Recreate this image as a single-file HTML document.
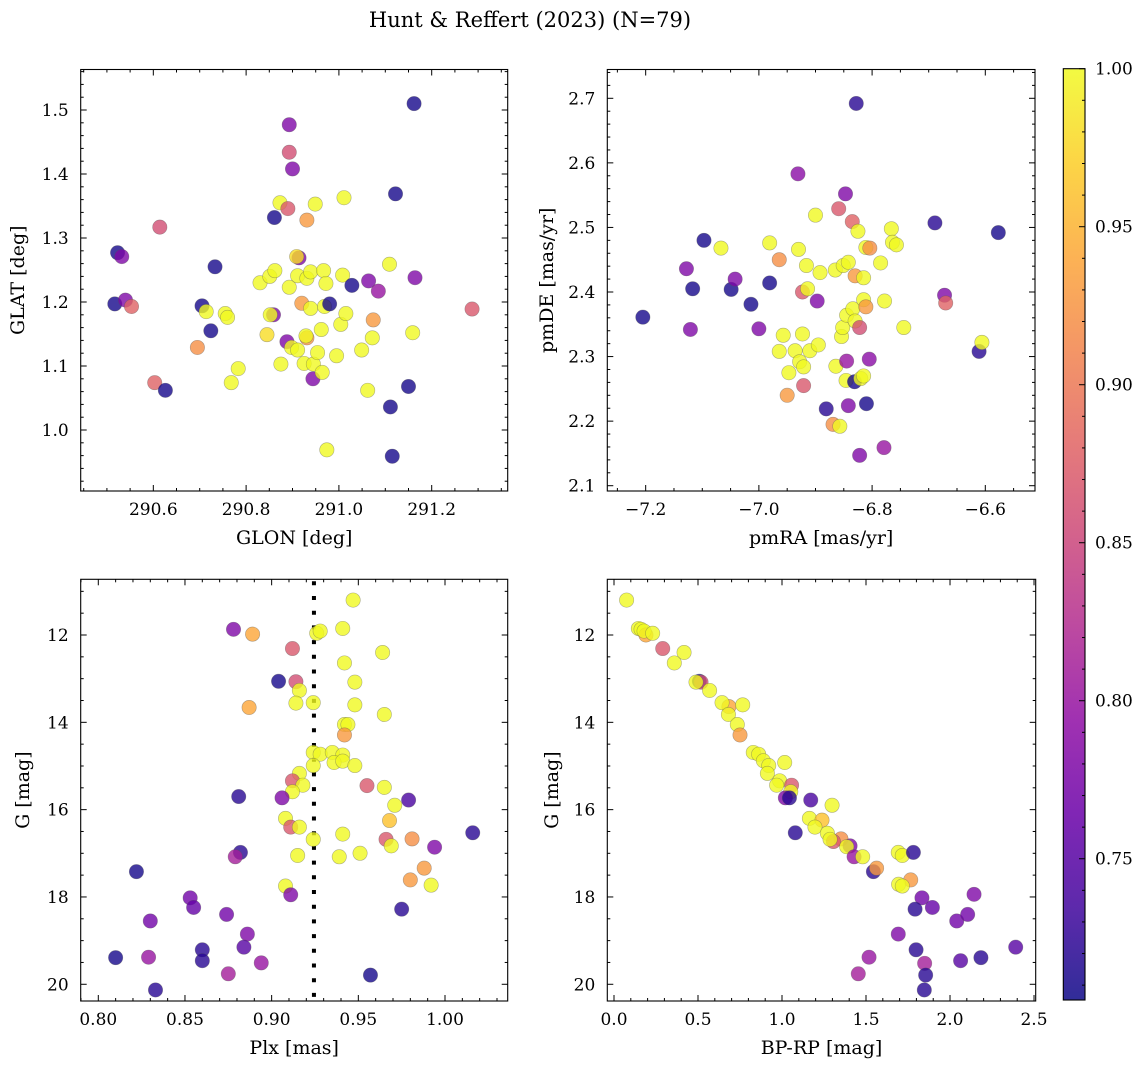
<!DOCTYPE html>
<html><head><meta charset="utf-8"><style>
html,body{margin:0;padding:0;background:#fff;}
svg{display:block;font-family:"DejaVu Serif","Liberation Serif",serif;}
</style></head><body>
<svg id="fig" width="1148" height="1068" viewBox="0 0 1148 1068" xmlns="http://www.w3.org/2000/svg">
<defs>
<linearGradient id="plasma" x1="0" y1="1" x2="0" y2="0">
<stop offset="0" stop-color="#0d0887"/><stop offset="0.1" stop-color="#41049d"/><stop offset="0.2" stop-color="#6a00a8"/><stop offset="0.3" stop-color="#8f0da4"/><stop offset="0.4" stop-color="#b12a90"/><stop offset="0.5" stop-color="#cc4778"/><stop offset="0.6" stop-color="#e16462"/><stop offset="0.7" stop-color="#f2844b"/><stop offset="0.8" stop-color="#fca636"/><stop offset="0.9" stop-color="#fcce25"/><stop offset="1" stop-color="#f0f921"/>
</linearGradient>
</defs>
<text x="530" y="27" font-size="21" text-anchor="middle">Hunt &amp; Reffert (2023) (N=79)</text>
</svg>
<script>
// ---- Panel 1: GLON / GLAT ----
const p1Glon=[290.523,290.532,290.517,290.540,290.553,290.614,290.603,290.626,290.695,290.705,290.714,290.724,290.733,290.755,290.760,290.768,290.783,290.830,290.845,290.859,290.852,290.851,290.862,290.861,290.873,290.890,290.875,290.888,290.893,290.893,290.893,290.900,290.898,290.911,290.914,290.909,290.911,290.920,290.925,290.931,290.931,290.929,290.931,290.939,290.939,290.944,290.945,290.949,290.954,290.962,290.964,290.967,290.972,290.969,290.980,290.974,290.995,291.004,291.008,291.011,291.015,291.028,291.049,291.064,291.062,291.072,291.074,291.085,291.109,291.111,291.115,291.122,291.150,291.159,291.164,291.162,291.287];
const p1Glat=[1.277,1.271,1.197,1.203,1.193,1.317,1.074,1.062,1.129,1.194,1.185,1.155,1.255,1.182,1.176,1.074,1.096,1.230,1.149,1.180,1.180,1.240,1.249,1.332,1.355,1.346,1.103,1.138,1.223,1.477,1.434,1.408,1.129,1.125,1.269,1.271,1.241,1.198,1.104,1.328,1.144,1.147,1.237,1.247,1.190,1.080,1.103,1.353,1.121,1.157,1.090,1.249,1.229,1.193,1.197,0.969,1.116,1.165,1.242,1.363,1.182,1.226,1.125,1.233,1.062,1.144,1.172,1.217,1.259,1.036,0.959,1.369,1.068,1.152,1.238,1.510,1.189];
const p1Prob=[0.71,0.78,0.71,0.78,0.88,0.86,0.88,0.71,0.92,0.71,1.0,0.71,0.71,1.0,1.0,1.0,1.0,1.0,0.98,0.78,1.0,1.0,1.0,0.71,1.0,0.87,1.0,0.78,1.0,0.78,0.86,0.78,1.0,1.0,0.78,0.98,1.0,0.93,1.0,0.93,0.93,1.0,1.0,1.0,1.0,0.78,1.0,1.0,1.0,1.0,1.0,1.0,1.0,1.0,0.71,1.0,1.0,1.0,1.0,1.0,1.0,0.71,1.0,0.78,1.0,1.0,0.93,0.80,1.0,0.71,0.71,0.71,0.71,1.0,0.78,0.71,0.87];
// ---- Panel 2: pmRA / pmDE ----
const p2Pmra=[-7.205,-7.128,-7.117,-7.121,-7.097,-7.067,-7.049,-7.042,-7.014,-7.000,-6.981,-6.981,-6.964,-6.957,-6.964,-6.947,-6.950,-6.936,-6.931,-6.930,-6.923,-6.928,-6.921,-6.916,-6.923,-6.914,-6.921,-6.910,-6.900,-6.897,-6.895,-6.892,-6.881,-6.869,-6.857,-6.865,-6.859,-6.864,-6.854,-6.851,-6.852,-6.845,-6.847,-6.845,-6.842,-6.846,-6.842,-6.835,-6.834,-6.831,-6.830,-6.830,-6.828,-6.825,-6.822,-6.822,-6.820,-6.815,-6.815,-6.815,-6.811,-6.811,-6.810,-6.804,-6.805,-6.785,-6.778,-6.779,-6.766,-6.764,-6.757,-6.744,-6.689,-6.672,-6.670,-6.611,-6.606,-6.577];
const p2Pmde=[2.361,2.436,2.405,2.342,2.480,2.468,2.404,2.420,2.381,2.343,2.414,2.476,2.450,2.333,2.308,2.275,2.240,2.309,2.583,2.466,2.335,2.292,2.284,2.441,2.400,2.405,2.255,2.309,2.519,2.386,2.318,2.430,2.219,2.195,2.192,2.434,2.529,2.285,2.331,2.441,2.345,2.293,2.552,2.364,2.446,2.263,2.224,2.509,2.374,2.261,2.425,2.355,2.692,2.494,2.345,2.147,2.266,2.270,2.422,2.388,2.469,2.377,2.227,2.468,2.296,2.445,2.386,2.159,2.498,2.477,2.473,2.345,2.507,2.395,2.383,2.308,2.322,2.492];
const p2Prob=[0.71,0.78,0.71,0.78,0.71,1.0,0.71,0.78,0.71,0.78,0.71,1.0,0.92,1.0,1.0,1.0,0.93,1.0,0.79,1.0,1.0,1.0,1.0,1.0,0.87,1.0,0.87,1.0,1.0,0.78,1.0,1.0,0.72,0.92,1.0,1.0,0.87,1.0,1.0,1.0,1.0,0.80,0.78,1.0,1.0,1.0,0.78,0.88,1.0,0.71,0.93,1.0,0.72,1.0,0.86,0.78,1.0,1.0,1.0,1.0,1.0,0.93,0.71,0.92,0.79,1.0,1.0,0.80,1.0,1.0,1.0,1.0,0.72,0.78,0.88,0.72,1.0,0.71];
// ---- Panel 3: Plx / G ----
const p3Plx=[0.947,0.878,0.889,0.926,0.928,0.941,0.912,0.964,0.942,0.904,0.914,0.916,0.948,0.887,0.914,0.924,0.948,0.965,0.942,0.944,0.942,0.924,0.928,0.935,0.941,0.936,0.941,0.948,0.924,0.916,0.912,0.918,0.912,0.955,0.965,0.906,0.881,0.979,0.971,0.908,0.911,0.916,0.968,1.016,0.941,0.924,0.966,0.981,0.969,0.994,0.882,0.879,0.915,0.939,0.951,0.822,0.988,0.980,0.992,0.908,0.911,0.853,0.855,0.975,0.874,0.830,0.886,0.884,0.860,0.810,0.829,0.860,0.894,0.875,0.957,0.833];
const p3G=[11.20,11.87,11.98,11.96,11.91,11.85,12.31,12.40,12.64,13.06,13.07,13.27,13.08,13.66,13.56,13.55,13.60,13.82,14.05,14.05,14.29,14.69,14.73,14.69,14.75,14.92,14.89,14.99,14.99,15.17,15.34,15.44,15.59,15.45,15.49,15.73,15.70,15.78,15.90,16.20,16.40,16.40,16.25,16.53,16.56,16.68,16.68,16.67,16.83,16.86,16.98,17.08,17.05,17.08,17.00,17.42,17.34,17.61,17.73,17.75,17.95,18.02,18.24,18.28,18.40,18.55,18.85,19.15,19.21,19.39,19.38,19.46,19.51,19.76,19.79,20.13];
const p3Prob=[1.0,0.78,0.94,1.0,1.0,1.0,0.87,1.0,1.0,0.71,0.86,1.0,1.0,0.94,1.0,1.0,1.0,1.0,1.0,1.0,0.93,1.0,1.0,1.0,1.0,1.0,1.0,1.0,1.0,1.0,0.87,1.0,1.0,0.87,1.0,0.78,0.72,0.74,1.0,1.0,0.87,1.0,0.96,0.72,1.0,1.0,0.87,0.92,1.0,0.78,0.72,0.81,1.0,1.0,1.0,0.71,0.93,0.93,1.0,1.0,0.78,0.77,0.76,0.72,0.77,0.77,0.78,0.75,0.72,0.71,0.80,0.72,0.80,0.81,0.71,0.72];
// ---- Panel 4: BP-RP / G ----
const p4Bprp=[0.075,0.145,0.161,0.190,0.179,0.230,0.290,0.417,0.359,0.508,0.518,0.488,0.569,0.684,0.643,0.766,0.681,0.734,0.750,0.829,0.861,0.889,0.921,0.913,1.016,0.986,0.968,1.057,1.052,1.020,1.044,1.171,1.298,1.163,1.238,1.196,1.079,1.270,1.351,1.306,1.286,1.405,1.385,1.429,1.480,1.692,1.716,1.782,1.544,1.563,1.766,1.694,1.716,1.833,1.792,1.895,2.143,2.040,2.105,1.692,1.798,2.391,1.518,1.849,2.063,2.184,1.454,1.855,1.847];
const p4G=[11.20,11.85,11.87,12.00,11.91,11.96,12.31,12.40,12.64,13.06,13.08,13.08,13.27,13.64,13.55,13.60,13.82,14.05,14.29,14.69,14.73,14.88,14.99,15.17,14.92,15.34,15.44,15.44,15.59,15.73,15.73,15.78,15.90,16.20,16.24,16.40,16.53,16.54,16.67,16.73,16.68,16.83,16.85,17.08,17.08,16.98,17.05,16.98,17.42,17.34,17.61,17.71,17.75,18.02,18.28,18.24,17.94,18.55,18.40,18.85,19.21,19.15,19.38,19.52,19.46,19.39,19.76,19.79,20.13];
const p4Prob=[1.0,1.0,1.0,0.94,1.0,1.0,0.87,1.0,1.0,0.71,0.86,1.0,1.0,0.94,1.0,1.0,1.0,1.0,0.93,1.0,1.0,1.0,1.0,1.0,1.0,1.0,1.0,0.87,1.0,0.78,0.72,0.74,1.0,1.0,0.96,1.0,0.72,1.0,0.92,0.87,1.0,0.78,1.0,0.80,1.0,1.0,1.0,0.72,0.72,0.93,0.93,1.0,1.0,0.77,0.72,0.76,0.78,0.77,0.77,0.78,0.72,0.75,0.80,0.81,0.75,0.72,0.81,0.72,0.72];
const plxMedian=0.9244;
// ---- Colorbar ----
const cbTicks=[0.75,0.80,0.85,0.90,0.95,1.00];
const cbMin=0.7053, cbMax=1.0;

const NS='http://www.w3.org/2000/svg';
const svg=document.getElementById('fig');
const TICK_FS=17, LABEL_FS=19;
const stops=[[13,8,135],[65,4,157],[106,0,168],[143,13,164],[177,42,144],[204,71,120],[225,100,98],[242,132,75],[252,166,54],[252,206,37],[240,249,33]];
function plasma(v){let t=(v-cbMin)/(cbMax-cbMin);t=Math.max(0,Math.min(1,t));const f=t*10,i=Math.min(9,Math.floor(f)),u=f-i;const a=stops[i],b=stops[i+1];return 'rgb('+a.map((c,k)=>Math.round(c+(b[k]-c)*u)).join(',')+')';}
function mk(tag,attrs,parent){const e=document.createElementNS(NS,tag);for(const k in attrs)e.setAttribute(k,attrs[k]);(parent||svg).appendChild(e);return e;}
function fmt(v,d){return (v<0?'\u2212':'')+Math.abs(v).toFixed(d);}

function panel(cfg){
  const g=mk('g',{});
  
  
  const {L,R,T,B}=cfg;
  const sx=v=>L+(v-cfg.x0)/(cfg.x1-cfg.x0)*(R-L);
  const sy=cfg.invert?(v=>T+(v-cfg.y0)/(cfg.y1-cfg.y0)*(B-T)):(v=>B-(v-cfg.y0)/(cfg.y1-cfg.y0)*(B-T));
  const clip='clip-'+cfg.name;
  const cp=mk('clipPath',{id:clip},g);
  mk('rect',{x:L,y:T,width:R-L,height:B-T},cp);
  const pts=mk('g',{'clip-path':'url(#'+clip+')'},g);
  
  
  if(cfg.vline!==undefined){
    const ln=mk('line',{x1:sx(cfg.vline),x2:sx(cfg.vline),y1:T+2,y2:B,stroke:'#000','stroke-width':4,'stroke-dasharray':'4 10.7'},pts);
    
    
  }
  cfg.xs.forEach((xv,i)=>{
    const c=mk('circle',{cx:sx(xv),cy:sy(cfg.ys[i]),r:7.2,fill:plasma(cfg.cs[i]),'fill-opacity':0.8,stroke:'#555','stroke-opacity':0.45,'stroke-width':0.6},pts);
    
    
  });
  const tg=mk('g',{stroke:'#000','stroke-width':1},g);
  
  
  const eps=1e-9;
  for(let k=Math.ceil(cfg.x0/cfg.xminor-eps);k*cfg.xminor<=cfg.x1+eps;k++){const v=k*cfg.xminor,x=sx(v);const major=Math.abs(v/cfg.xmajor-Math.round(v/cfg.xmajor))<1e-6;const len=major?6:3;mk('line',{x1:x,x2:x,y1:B,y2:B-len},tg);mk('line',{x1:x,x2:x,y1:T,y2:T+len},tg);
    if(major){const t=mk('text',{x:x,y:B+24,'font-size':TICK_FS,'text-anchor':'middle',stroke:'none',fill:'#000'},g);t.textContent=fmt(v,cfg.xd);}}
  for(let k=Math.ceil(cfg.y0/cfg.yminor-eps);k*cfg.yminor<=cfg.y1+eps;k++){const v=k*cfg.yminor,y=sy(v);const major=Math.abs(v/cfg.ymajor-Math.round(v/cfg.ymajor))<1e-6;const len=major?6:3;mk('line',{x1:L,x2:L+len,y1:y,y2:y},tg);mk('line',{x1:R,x2:R-len,y1:y,y2:y},tg);
    if(major){const t=mk('text',{x:L-12,y:y+6,'font-size':TICK_FS,'text-anchor':'end',stroke:'none',fill:'#000'},g);t.textContent=fmt(v,cfg.yd);}}
  const fr=mk('rect',{x:L,y:T,width:R-L,height:B-T,fill:'none',stroke:'#000','stroke-width':1.1},g);
  
  
  const xl=mk('text',{x:(L+R)/2,y:B+53,'font-size':LABEL_FS,'text-anchor':'middle'},g);
  xl.textContent=cfg.xlabel;
  
  
  const yl=mk('text',{x:0,y:0,'font-size':LABEL_FS,'text-anchor':'middle',transform:'translate('+cfg.ylx+','+((T+B)/2)+') rotate(-90)'},g);
  yl.textContent=cfg.ylabel;
  
  
}

panel({name:'panel-glon-glat',L:80.7,R:507.7,T:69.5,B:491,x0:290.4435,x1:291.3638,y0:0.9047,y1:1.5633,xmajor:0.2,xminor:0.05,ymajor:0.1,yminor:0.02,xd:1,yd:1,xs:p1Glon,ys:p1Glat,cs:p1Prob,xlabel:'GLON [deg]',ylabel:'GLAT [deg]',ylx:24});
panel({name:'panel-pmra-pmde',L:607.3,R:1035,T:69.5,B:491,x0:-7.2678,x1:-6.5122,y0:2.0918,y1:2.7446,xmajor:0.2,xminor:0.05,ymajor:0.1,yminor:0.02,xd:1,yd:1,xs:p2Pmra,ys:p2Pmde,cs:p2Prob,xlabel:'pmRA [mas/yr]',ylabel:'pmDE [mas/yr]',ylx:553});
panel({name:'panel-plx-g',L:80.7,R:507.7,T:579.3,B:1001,x0:0.78985,x1:1.03617,y0:10.724,y1:20.383,invert:true,xmajor:0.05,xminor:0.01,ymajor:2,yminor:0.5,xd:2,yd:0,xs:p3Plx,ys:p3G,cs:p3Prob,vline:plxMedian,xlabel:'Plx [mas]',ylabel:'G [mag]',ylx:29});
panel({name:'panel-bprp-g',L:607.3,R:1035.7,T:579.3,B:1001,x0:-0.0399,x1:2.510,y0:10.724,y1:20.383,invert:true,xmajor:0.5,xminor:0.1,ymajor:2,yminor:0.5,xd:1,yd:0,xs:p4Bprp,ys:p4G,cs:p4Prob,xlabel:'BP-RP [mag]',ylabel:'G [mag]',ylx:558});

(function(){
  const L=1063.3,R=1085,T=68.7,B=1000;
  const g=mk('g',{});
  
  
  const r=mk('rect',{x:L,y:T,width:R-L,height:B-T,fill:'url(#plasma)','fill-opacity':0.85},g);
  
  
  const sy=v=>B-(v-cbMin)/(cbMax-cbMin)*(B-T);
  for(let k=71;k<=100;k++){const v=k/100,y=sy(v);const major=k%5===0;mk('line',{x1:R,x2:R-(major?6:3),y1:y,y2:y,stroke:'#000','stroke-width':1},g);}
  cbTicks.forEach(v=>{const t=mk('text',{x:R+10,y:sy(v)+6,'font-size':TICK_FS},g);t.textContent=v.toFixed(2);});
  const f=mk('rect',{x:L,y:T,width:R-L,height:B-T,fill:'none',stroke:'#000','stroke-width':1.1},g);
  
  
})();
</script>
</body></html>
